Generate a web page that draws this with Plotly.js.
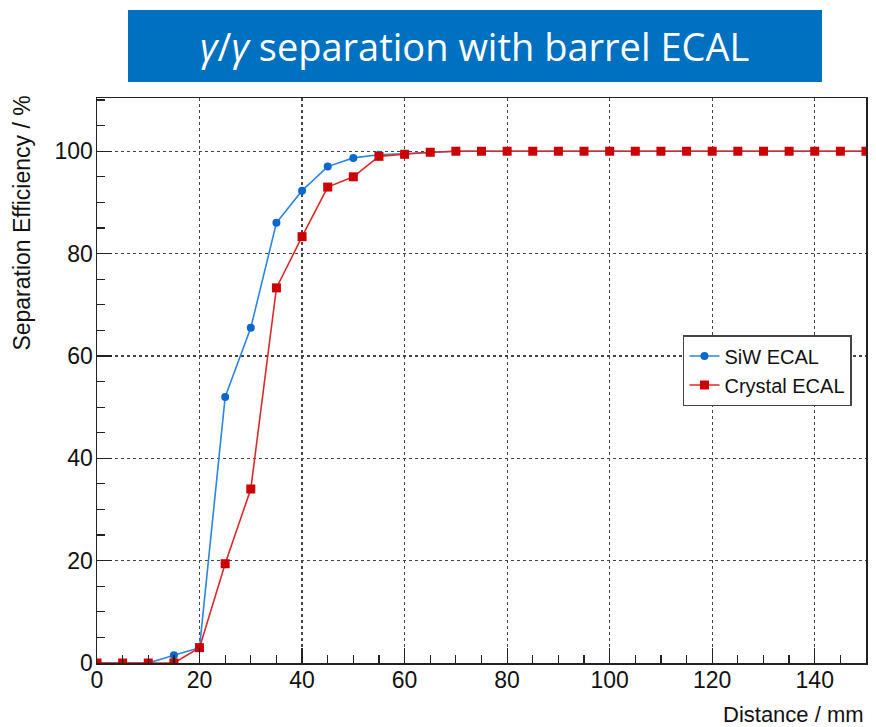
<!DOCTYPE html>
<html><head><meta charset="utf-8">
<script src="https://cdn.plot.ly/plotly-3.0.1.min.js"></script>
<style>html,body{margin:0;padding:0;background:#fff;}#chart{width:876px;height:727px;}</style>
</head><body><div id="chart"></div>
<script>
const distance = [0,5,10,15,20,25,30,35,40,45,50,55,60,65,70,75,80,85,90,95,100,105,110,115,120,125,130,135,140,145,150];
const siwEff = [0,0,0,1.5,3,52,65.5,86,92.3,97,98.7,99.3,99.5,99.8,100,100,100,100,100,100,100,100,100,100,100,100,100,100,100,100,100];
const crystalEff = [0,0,0,0,3,19.4,34,73.3,83.3,93,95,99,99.4,99.8,100,100,100,100,100,100,100,100,100,100,100,100,100,100,100,100,100];
const xTicks = [0,20,40,60,80,100,120,140];
const yTicks = [0,20,40,60,80,100];
const titleText = '<i>γ</i>/<i>γ</i> separation with barrel ECAL';

const FONT = 'Liberation Sans, Arial, sans-serif';

const traces = [
  {x: distance, y: siwEff, name: 'SiW ECAL', mode: 'lines+markers', type: 'scatter',
   line: {color: '#2a86e2', width: 1.6}, marker: {color: '#0a66d0', size: 8, symbol: 'circle'}},
  {x: distance, y: crystalEff, name: 'Crystal ECAL', mode: 'lines+markers', type: 'scatter',
   line: {color: '#dc2a2a', width: 1.6}, marker: {color: '#cc0000', size: 9, symbol: 'square'}}
];

const axisCommon = {
  showline: true, mirror: true, linecolor: '#222', linewidth: 1.5,
  ticks: 'inside', ticklen: 15, tickwidth: 1.2, tickcolor: '#222',
  showgrid: true, gridcolor: '#444', griddash: 'dot', gridwidth: 1.2,
  zeroline: false, tickfont: {family: FONT, size: 23, color: '#111'},
  minor: {dtick: 5, ticks: 'inside', ticklen: 8, tickcolor: '#222', tickwidth: 1.2, showgrid: false}
};

const layout = {
  width: 876, height: 727,
  margin: {l: 97, r: 10, t: 98, b: 64},
  paper_bgcolor: '#fff', plot_bgcolor: '#fff',
  showlegend: true,
  legend: {x: 0.762, y: 0.5805, xanchor: 'left', yanchor: 'top', bgcolor: '#fff',
    bordercolor: '#444', borderwidth: 1.5, font: {family: FONT, size: 20, color: '#111'},
    tracegroupgap: 2},
  xaxis: Object.assign({}, axisCommon, {range: [0, 150], tickvals: xTicks, ticktext: xTicks.map(String), ticklabelstandoff: -4}),
  yaxis: Object.assign({}, axisCommon, {range: [0, 110.4], tickvals: yTicks, ticktext: yTicks.map(String), ticklabelstandoff: -2}),
  shapes: [
    {type: 'rect', xref: 'paper', yref: 'paper', x0: 0.0403, x1: 0.9428, y0: 1.0283, y1: 1.1558,
     fillcolor: '#0070c0', line: {width: 0}, layer: 'above'}
  ],
  annotations: [
    {text: titleText, xref: 'paper', yref: 'paper', x: 0.4915, y: 1.092, xanchor: 'center', yanchor: 'middle',
     showarrow: false, font: {family: 'Open Sans, Noto Sans, sans-serif', size: 38, color: '#fff'}},
    {text: 'Separation Efficiency / %', xref: 'paper', yref: 'paper', x: -0.098, y: 1.008, xanchor: 'center', yanchor: 'top',
     textangle: -90, showarrow: false, font: {family: FONT, size: 23, color: '#111'}},
    {text: 'Distance / mm', xref: 'paper', yref: 'paper', x: 1.0, y: -0.066, xanchor: 'right', yanchor: 'top',
     showarrow: false, font: {family: FONT, size: 22, color: '#111'}}
  ]
};

Plotly.newPlot('chart', traces, layout, {displayModeBar: false, staticPlot: true});
</script></body></html>
